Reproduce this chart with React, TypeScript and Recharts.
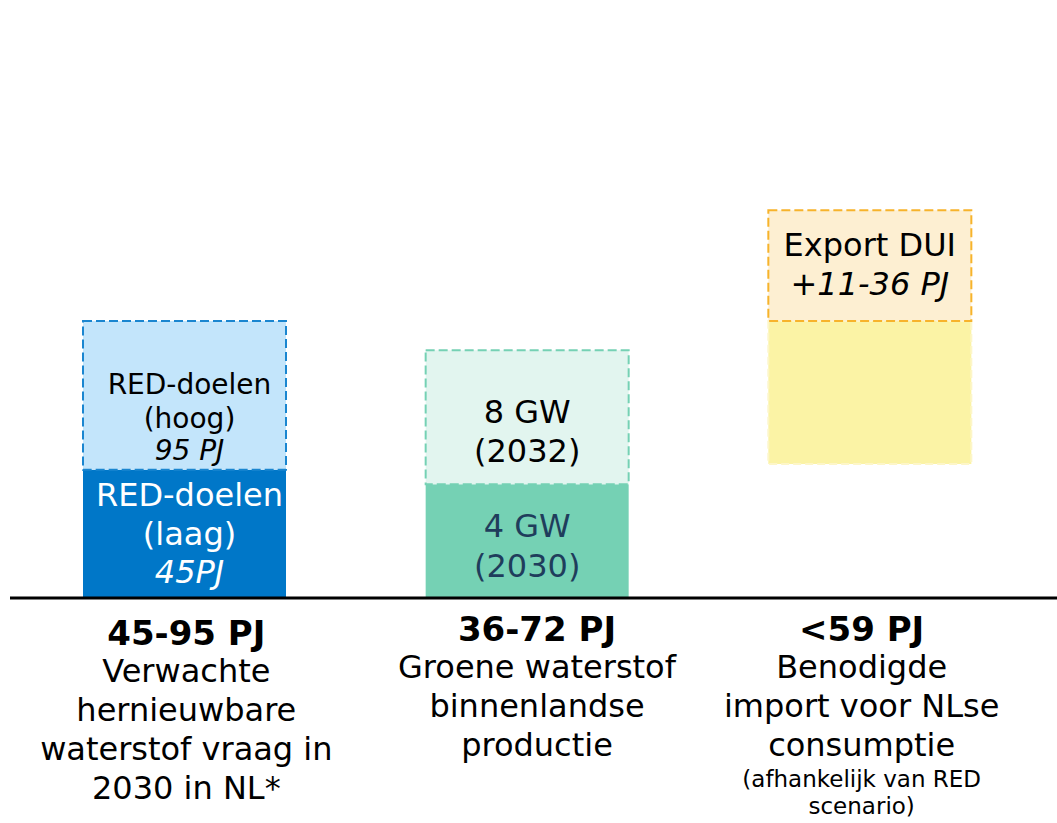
import { BarChart, Bar, XAxis, YAxis, Cell, LabelList } from 'recharts'

const categories = ['vraag', 'productie', 'import']
const baseValues = [0, 0, 46]
const lowValues = [44, 39, 49]
const highValues = [51, 46, 38]

const lowLabels = [['RED-doelen', '(laag)', '45PJ'], ['4 GW', '(2030)'], []]
const highLabels = [['RED-doelen', '(hoog)', '95 PJ'], ['8 GW', '(2032)'], ['Export DUI', '+11-36 PJ']]

const tickTitles = ['45-95 PJ', '36-72 PJ', '<59 PJ']
const tickLines = [
  ['Verwachte', 'hernieuwbare', 'waterstof vraag in', '2030 in NL*'],
  ['Groene waterstof', 'binnenlandse', 'productie'],
  ['Benodigde', 'import voor NLse', 'consumptie'],
]
const tickNotes = [[], [], ['(afhankelijk van RED', 'scenario)']]

const data = categories.map((name, i) => ({
  name,
  base: baseValues[i],
  low: lowValues[i],
  high: highValues[i],
}))

const FONT = '"DejaVu Sans", Verdana, sans-serif'

const lowFill = ['#0077c8', '#75d1b4', '#fbf3a5']
const lowStroke = ['none', 'none', '#fdf6c8']
const highFill = ['#c3e5fb', '#e2f5ef', '#fdefd2']
const highStroke = ['#1a86d0', '#75d1b4', '#f7b32b']

const lowText = ['#ffffff', '#1f3d5c', '#000']
const lowOffsets = [[25, 64, 102], [42, 82], []]
const highOffsets = [[63, 97, 129], [62, 101], [35, 74]]
const highSize = [28, 32, 32]
const lowSize = [32, 32, 32]
// welke regel cursief is (-1 = geen)
const italicLow = [2, -1, -1]
const italicHigh = [2, -1, 1]
const tickShift = [2, 10, -8]

const makeLabel = (lines: string[][], offsets: number[][], sizes: number[], colors: string[], italicIdx: number[]) =>
  (props: any) => {
    const { x, y, width, index } = props
    const ls = lines[index] || []
    return (
      <g>
        {ls.map((t, k) => (
          <text
            key={k}
            x={x + width / 2 + (index === 0 ? 5 : 0)}
            y={y + offsets[index][k]}
            textAnchor="middle"
            dominantBaseline="central"
            fontFamily={FONT}
            fontSize={sizes[index]}
            fontStyle={k === italicIdx[index] ? 'italic' : 'normal'}
            fill={colors[index]}
          >
            {t}
          </text>
        ))}
      </g>
    )
  }

function CategoryTick(props: any) {
  const { y, payload } = props
  const i = payload.index
  const x = props.x + tickShift[i]
  const lines = tickLines[i]
  const notes = tickNotes[i]
  const shift = i === 0 ? 4 : 0
  return (
    <g>
      <text x={x} y={y + 31 + shift} textAnchor="middle" dominantBaseline="central"
        fontFamily={FONT} fontSize={34} fontWeight="bold" fill="#000">
        {tickTitles[i]}
      </text>
      {lines.map((t, k) => (
        <text key={k} x={x} y={y + 69 + shift + k * 39} textAnchor="middle" dominantBaseline="central"
          fontFamily={FONT} fontSize={32} fill="#000">
          {t}
        </text>
      ))}
      {notes.map((t, k) => (
        <text key={'n' + k} x={x} y={y + 181 + k * 27} textAnchor="middle" dominantBaseline="central"
          fontFamily={FONT} fontSize={23} fill="#000">
          {t}
        </text>
      ))}
    </g>
  )
}

export default function App() {
  return (
    <div style={{ width: 1057, height: 823 }}>
      {/* geen body-marge en geen scrollbalk, zodat de grafiek de hele pagina vult */}
      <style>{'html, body { margin: 0; overflow: hidden; }'}</style>
      <BarChart
        width={1057}
        height={823}
        data={data}
        margin={{ top: 15, right: 0, bottom: 0, left: 10 }}
        barSize={203}
      >
        <YAxis hide domain={[0, 200]} />
        <XAxis
          dataKey="name"
          height={225}
          padding={{ left: 3, right: 16 }}
          axisLine={{ stroke: '#000', strokeWidth: 3 }}
          tickLine={false}
          tickSize={0}
          tickMargin={0}
          interval={0}
          tick={<CategoryTick />}
        />
        <Bar dataKey="base" stackId="a" isAnimationActive={false} fill="transparent" />
        <Bar dataKey="low" stackId="a" isAnimationActive={false}>
          {data.map((d, i) => (
            <Cell key={d.name} fill={lowFill[i]} stroke={lowStroke[i]} strokeWidth={2} strokeDasharray="8 4" />
          ))}
          <LabelList dataKey="low" content={makeLabel(lowLabels, lowOffsets, lowSize, lowText, italicLow)} />
        </Bar>
        <Bar dataKey="high" stackId="a" isAnimationActive={false}>
          {data.map((d, i) => (
            <Cell key={d.name} fill={highFill[i]} stroke={highStroke[i]} strokeWidth={2} strokeDasharray="9 4" />
          ))}
          <LabelList
            dataKey="high"
            content={makeLabel(highLabels, highOffsets, highSize, ['#000', '#000', '#000'], italicHigh)}
          />
        </Bar>
      </BarChart>
    </div>
  )
}
